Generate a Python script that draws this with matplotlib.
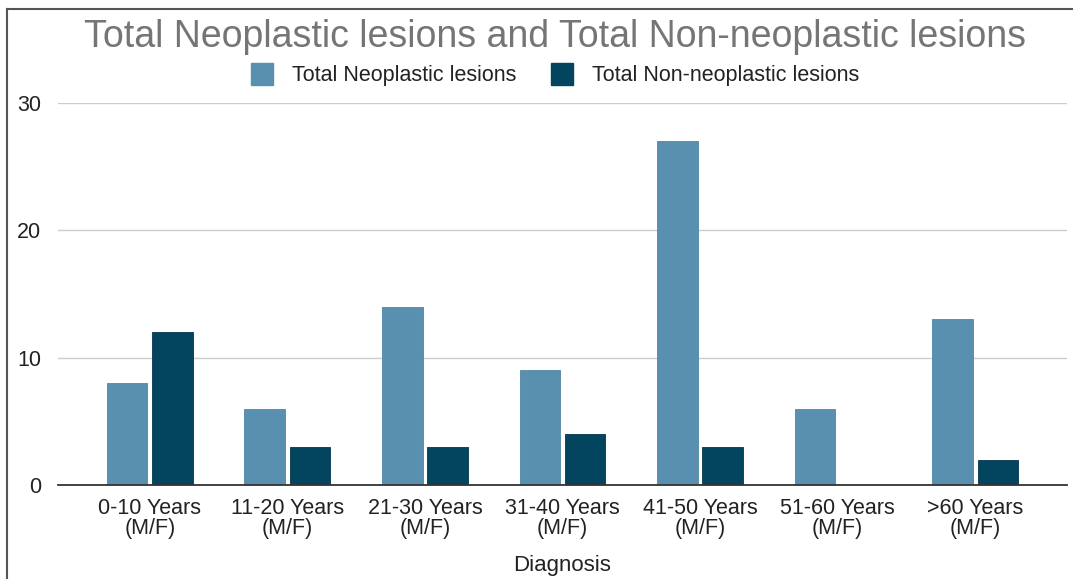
"""Grouped bar chart of neoplastic vs non-neoplastic lesions by age group."""

from __future__ import annotations

import matplotlib

matplotlib.use("Agg")
import matplotlib.pyplot as plt
import numpy as np
from matplotlib.lines import Line2D

categories = [
    "0-10 Years\n(M/F)",
    "11-20 Years\n(M/F)",
    "21-30 Years\n(M/F)",
    "31-40 Years\n(M/F)",
    "41-50 Years\n(M/F)",
    "51-60 Years\n(M/F)",
    ">60 Years\n(M/F)",
]
neoplastic = [8, 6, 14, 9, 27, 6, 13]
non_neoplastic = [12, 3, 3, 4, 3, 0, 2]
y_ticks = [0, 10, 20, 30]

LIGHT = "#5990af"
DARK = "#03445f"
TEXT = "#222222"

plt.rcParams["font.family"] = ["Liberation Sans", "DejaVu Sans"]

W, H = 1073, 579
fig = plt.figure(figsize=(W / 100, H / 100), dpi=100)
fig.patch.set_facecolor("white")

# axes box in pixels: left 58, right 1067, y=0 at 485, y=30 at 103
ax = fig.add_axes([58 / W, 1 - 485 / H, (1067 - 58) / W, (485 - 103) / H])

x = np.arange(len(categories))
off = 0.165
width = 0.295
ax.bar(x - off, neoplastic, width, color=LIGHT, edgecolor="#4f86a3", linewidth=0.6, zorder=3)
ax.bar(x + off, non_neoplastic, width, color=DARK, edgecolor="#02364d", linewidth=0.6, zorder=3)

ax.set_xlim(-0.667, 6.667)
ax.set_ylim(0, 30)
ax.set_yticks(y_ticks)
ax.set_yticklabels([str(v) for v in y_ticks], fontsize=15.5, color=TEXT)
ax.yaxis.grid(True, color="#cccccc", linewidth=1.0, zorder=0)
ax.set_axisbelow(True)
ax.tick_params(axis="y", length=0, pad=12)
ax.tick_params(axis="x", length=0, pad=9)
ax.set_xticks(x)
ax.set_xticklabels(categories, fontsize=15.5, color=TEXT, linespacing=0.95)
for side in ("top", "right", "left"):
    ax.spines[side].set_visible(False)
ax.spines["bottom"].set_color("#333333")
ax.spines["bottom"].set_linewidth(1.3)
ax.spines["bottom"].set_zorder(4)

ax.set_xlabel("Diagnosis", fontsize=16, color=TEXT, labelpad=12)

fig.text(555 / W, 1 - 37 / H, "Total Neoplastic lesions and Total Non-neoplastic lesions",
         ha="center", va="center", fontsize=27, color="#757575")

handles = [
    Line2D([], [], marker="s", linestyle="none", markersize=15.5, color=LIGHT),
    Line2D([], [], marker="s", linestyle="none", markersize=15.5, color=DARK),
]
fig.legend(handles, ["Total Neoplastic lesions", "Total Non-neoplastic lesions"],
           loc="center", bbox_to_anchor=(555 / W, 1 - 76 / H), ncol=2, frameon=False,
           fontsize=15.5, handletextpad=0.9, columnspacing=1.6, handlelength=1.0,
           labelcolor=TEXT)

# outer frame (top and left edges visible)
fig.add_artist(Line2D([7 / W, 7 / W], [0, 1 - 9 / H], transform=fig.transFigure,
                      color="#555555", linewidth=1.5))
fig.add_artist(Line2D([7 / W, 1], [1 - 9 / H, 1 - 9 / H], transform=fig.transFigure,
                      color="#555555", linewidth=1.5))

fig.savefig("out.png", dpi=100)
plt.close(fig)
